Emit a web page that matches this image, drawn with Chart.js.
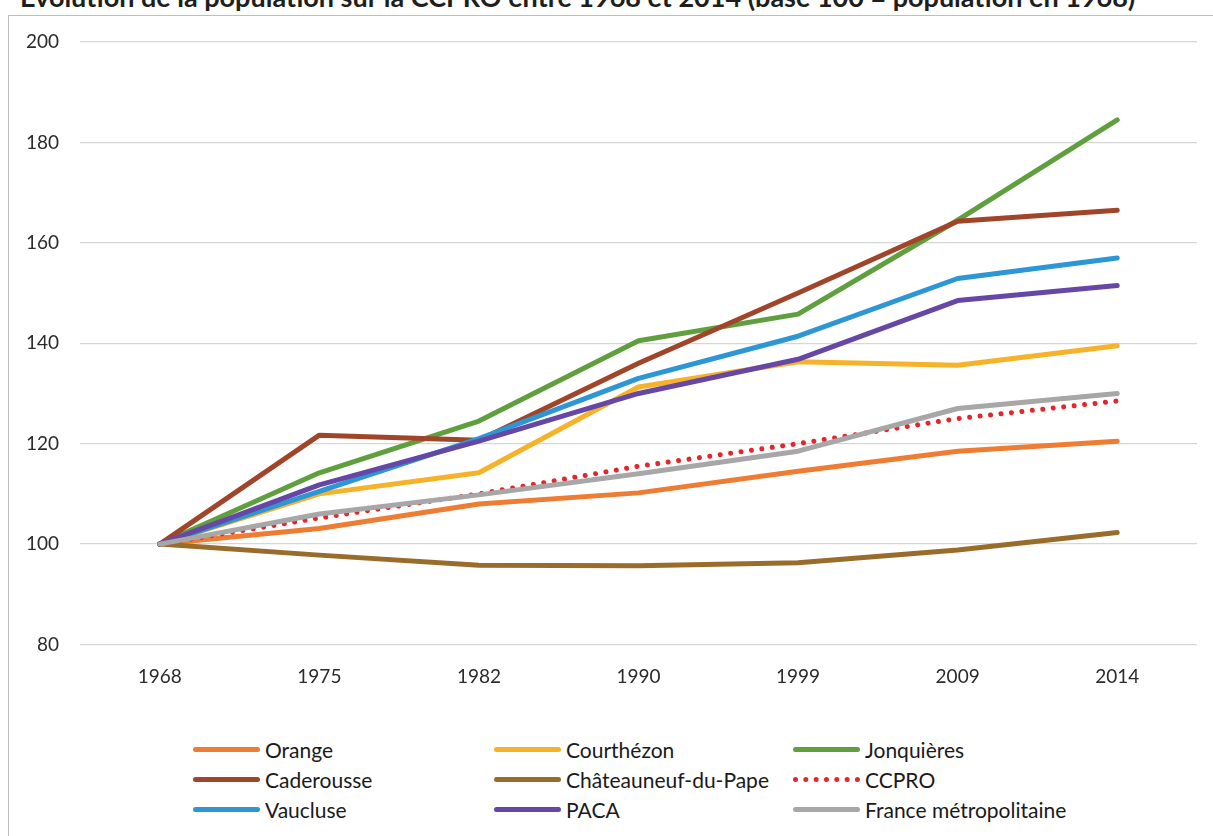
<!DOCTYPE html>
<html lang="fr">
<head>
<meta charset="utf-8">
<title>Évolution de la population sur la CCPRO</title>
<script src="https://cdn.jsdelivr.net/npm/chart.js@4.4.1/dist/chart.umd.min.js"></script>
<style>
  html, body { margin: 0; padding: 0; background: #fff; overflow: hidden; }
  body { width: 1213px; height: 836px; position: relative; font-family: Lato, "Open Sans", sans-serif; }
  #frame { position: absolute; left: 8px; top: 15px; width: 1400px; height: 1000px;
           border-left: 1.5px solid #bdbdbd; border-top: 1.5px solid #bdbdbd; }
  #title { position: absolute; left: 20px; top: -16px; white-space: nowrap;
           font: bold 27px/26px Lato, sans-serif; color: #1e1e1e; }
  #wrap { position: absolute; left: 0; top: 0; width: 1213px; height: 700px; }
  #legend { position: absolute; left: 193px; top: 734px; display: grid;
            grid-template-columns: 301px 299px 300px; grid-auto-rows: 30px; }
  .item { display: flex; align-items: center; font-size: 21px; color: #1a1a1a; }
  .swatch { width: 67px; height: 5px; border-radius: 3px; margin-right: 5px; flex: none; }
  .swatch.dots { height: 0; border-radius: 0; border-top: 5px dotted; }
</style>
</head>
<body>
<div id="frame"></div>
<div id="title">Évolution de la population sur la CCPRO entre 1968 et 2014 (base 100 = population en 1968)</div>
<div id="wrap"><canvas id="chart"></canvas></div>
<div id="legend"></div>
<script>
// Census years and the base-100 index of each territory (1968 = 100)
const years = ['1968', '1975', '1982', '1990', '1999', '2009', '2014'];
const yTicks = [80, 100, 120, 140, 160, 180, 200];

const orange      = [100, 103.1, 108.0, 110.2, 114.5, 118.5, 120.5];
const courthezon  = [100, 110.0, 114.2, 131.3, 136.3, 135.6, 139.5];
const jonquieres  = [100, 114.2, 124.5, 140.5, 145.8, 164.5, 184.5];
const caderousse  = [100, 121.7, 120.7, 136.0, 150.0, 164.3, 166.5];
const chateauneuf = [100, 97.8, 95.8, 95.7, 96.3, 98.8, 102.3];
const ccpro       = [100, 105.2, 110.0, 115.5, 120.0, 125.0, 128.5];
const vaucluse    = [100, 110.5, 121.0, 133.0, 141.4, 152.9, 157.0];
const paca        = [100, 111.8, 120.5, 130.0, 136.8, 148.5, 151.5];
const france      = [100, 106.0, 109.8, 114.0, 118.5, 127.0, 130.0];

const seriesNames = ['Orange', 'Courthézon', 'Jonquières', 'Caderousse', 'Châteauneuf-du-Pape',
                     'CCPRO', 'Vaucluse', 'PACA', 'France métropolitaine'];
const seriesValues = [orange, courthezon, jonquieres, caderousse, chateauneuf,
                      ccpro, vaucluse, paca, france];
const seriesColors = ['#ee7d33', '#f6b229', '#5f9f3e', '#a0452a', '#9a6c2c',
                      '#e4262c', '#2c97d4', '#6647a6', '#a7a7a7'];
const dottedSeries = ['CCPRO'];

const datasets = seriesNames.map((name, i) => {
  const dotted = dottedSeries.includes(name);
  return {
    label: name,
    data: seriesValues[i],
    borderColor: seriesColors[i],
    backgroundColor: seriesColors[i],
    borderWidth: 5,
    borderCapStyle: 'round',
    borderJoinStyle: 'round',
    borderDash: dotted ? [0.01, 10.5] : [],
    pointRadius: 0,
    pointHoverRadius: 0,
    tension: 0,
    fill: false,
    // later series are painted over earlier ones
    order: seriesNames.length - 1 - i
  };
});

const tickFont = { family: 'Lato, sans-serif', size: 19 };

new Chart(document.getElementById('chart'), {
  type: 'line',
  data: { labels: years, datasets },
  options: {
    responsive: true,
    maintainAspectRatio: false,
    animation: false,
    layout: { padding: { left: 0, top: 42, right: 16, bottom: 0 } },
    plugins: { legend: { display: false }, title: { display: false }, tooltip: { enabled: false } },
    scales: {
      x: {
        offset: true,
        grid: { display: false, drawTicks: false },
        border: { display: false },
        ticks: { color: '#2b2b2b', font: tickFont, padding: 21, maxRotation: 0 },
        afterFit: (axis) => { axis.height = 55.5; }
      },
      y: {
        min: yTicks[0],
        max: yTicks[yTicks.length - 1],
        afterBuildTicks: (axis) => { axis.ticks = yTicks.map(v => ({ value: v })); },
        grid: { color: '#d6d6d6', lineWidth: 1.3, drawTicks: false },
        border: { display: false },
        ticks: { color: '#2b2b2b', font: tickFont, padding: 21 },
        afterFit: (axis) => { axis.width = 80; }
      }
    }
  }
});

// Legend laid out as a three-column grid built from the datasets
const legend = document.getElementById('legend');
datasets.forEach(ds => {
  const item = document.createElement('div');
  item.className = 'item';
  const sw = document.createElement('span');
  sw.className = 'swatch';
  if (ds.borderDash.length) {
    sw.classList.add('dots');
    sw.style.borderTopColor = ds.borderColor;
  } else {
    sw.style.background = ds.borderColor;
  }
  const txt = document.createElement('span');
  txt.textContent = ds.label;
  item.appendChild(sw);
  item.appendChild(txt);
  legend.appendChild(item);
});
</script>
</body>
</html>
